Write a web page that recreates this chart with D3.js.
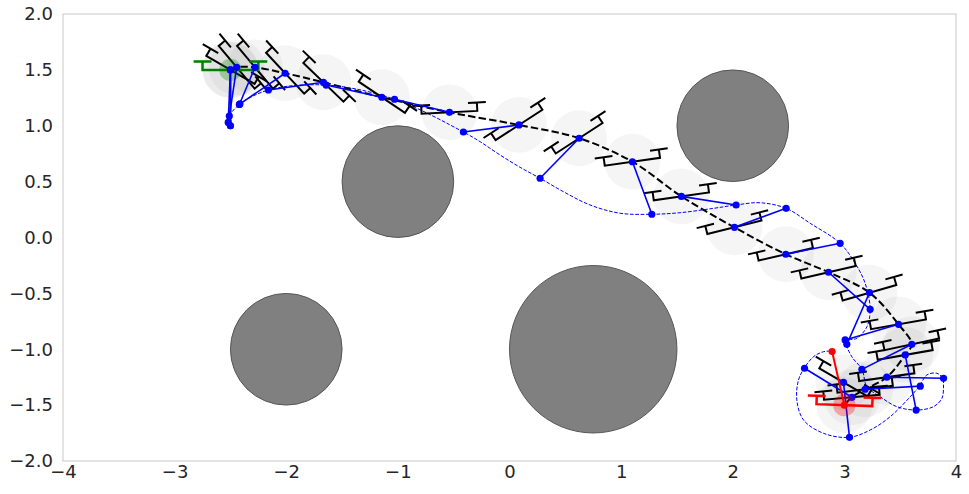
<!DOCTYPE html>
<html>
<head>
<meta charset="utf-8">
<script src="https://cdn.jsdelivr.net/npm/d3@7"></script>
<style>
  html, body { margin: 0; padding: 0; background: #ffffff; }
  svg { display: block; }
</style>
</head>
<body>
<svg id="chart" width="969" height="494"></svg>
<script>
// ---------------- data ----------------
const xTicks = [-4, -3, -2, -1, 0, 1, 2, 3, 4];
const yTicks = [-2, -1.5, -1, -0.5, 0, 0.5, 1, 1.5, 2];

// obstacles
const obsX = [-1, 2, -2, 0.75];
const obsY = [0.5, 1, -1, -1];
const obsR = [0.5, 0.5, 0.5, 0.75];

// drone frames (centre, tilt in degrees CCW) and suspended load positions
const droneX = [-2.50, -2.50, -2.444, -2.28, -2.01, -1.667, -1.144, -0.538, 0.085, 0.624, 1.101, 1.54, 2.015, 2.475, 2.858, 3.225, 3.485, 3.604, 3.545, 3.38, 3.186, 2.992, 3.067, 3.0];
const droneY = [1.50, 1.50, 1.523, 1.523, 1.47, 1.389, 1.255, 1.12, 1.007, 0.888, 0.678, 0.368, 0.091, -0.150, -0.311, -0.494, -0.777, -0.956, -1.051, -1.25, -1.358, -1.296, -1.43, -1.5];
const droneTilt = [0, -30, -50, -50, -47, -44, -34, 3, 33, 33, 8, 8, 14, 13, 13, 16, 10, 12, 10, 8, 7, -30, 5, -2];
const loadX = [-2.50, -2.52, -2.51, -2.42, -2.415, -2.16, -1.643, -1.03, -0.413, 0.274, 1.275, 2.03, 2.478, 2.962, 3.231, 3.022, 3.007, 3.157, 3.643, 3.888, 3.68, 3.046, 2.643, 2.89];
const loadY = [1.00, 1.03, 1.087, 1.19, 1.195, 1.32, 1.364, 1.237, 0.944, 0.530, 0.208, 0.291, 0.261, -0.052, -0.643, -0.956, -0.917, -1.18, -1.544, -1.26, -1.33, -1.788, -1.17, -1.02];

// reference (drone) path, black dashed
const refX = [-2.50, -2.444, -2.28, -2.01, -1.667, -1.144, -0.538, 0.085, 0.624, 1.101, 1.54, 2.015, 2.475, 2.858, 3.225, 3.485, 3.604, 3.545, 3.38, 3.186, 3.067, 3.0];
const refY = [1.50, 1.523, 1.523, 1.47, 1.389, 1.255, 1.12, 1.007, 0.888, 0.678, 0.368, 0.091, -0.150, -0.311, -0.494, -0.777, -0.956, -1.051, -1.25, -1.358, -1.43, -1.5];

// load trajectory, blue dashed
const lpX = [-2.50, -2.52, -2.51, -2.42, -2.16, -1.643, -1.03, -0.413, -0.263, -0.084, 0.095, 0.274, 0.483, 0.722, 0.991, 1.275, 1.529, 1.827, 2.030, 2.245, 2.478, 2.694, 2.962, 3.097, 3.186, 3.231, 3.202, 3.112, 3.016, 3.067, 3.157, 3.202, 3.321, 3.470, 3.643, 3.798, 3.874, 3.888, 3.882, 3.829, 3.739, 3.673, 3.590, 3.410, 3.231, 3.043, 2.813, 2.634, 2.574, 2.589, 2.640, 2.723, 2.813, 2.888];
const lpY = [1.00, 1.03, 1.087, 1.19, 1.32, 1.364, 1.237, 0.944, 0.857, 0.738, 0.628, 0.530, 0.410, 0.291, 0.217, 0.208, 0.222, 0.261, 0.291, 0.311, 0.261, 0.127, -0.052, -0.231, -0.410, -0.642, -0.798, -0.902, -0.926, -1.067, -1.179, -1.335, -1.425, -1.514, -1.544, -1.514, -1.439, -1.320, -1.260, -1.215, -1.230, -1.329, -1.425, -1.604, -1.723, -1.788, -1.752, -1.633, -1.454, -1.275, -1.170, -1.067, -1.022, -1.016];

// start / goal states
const startState = [-2.5, 1.5, 0];
const startLoad = [-2.5, 1.0];
const goalState = [3.0, -1.5, -2];
const goalLoad = [2.89, -1.02];

// ---------------- layout ----------------
const W = 969, H = 494;
const m = { left: 63, right: 13, top: 14, bottom: 33 };
const svg = d3.select("#chart");
const x = d3.scaleLinear().domain([-4, 4]).range([m.left, W - m.right]);
const y = d3.scaleLinear().domain([-2, 2]).range([H - m.bottom, m.top]);
const unit = (x(1) - x(0));

const FONT = "'DejaVu Sans', sans-serif";
const TXT = "#262626";

// drone geometry (data units)
const ARM = 0.25, STEM = 0.075, PROP = 0.08;
function dronePath(cx, cy, tiltDeg) {
  const t = tiltDeg * Math.PI / 180;
  const ux = Math.cos(t), uy = Math.sin(t);
  const nx = -Math.sin(t), ny = Math.cos(t);
  const Lx = cx - ARM * ux, Ly = cy - ARM * uy;
  const Rx = cx + ARM * ux, Ry = cy + ARM * uy;
  const LTx = Lx + STEM * nx, LTy = Ly + STEM * ny;
  const RTx = Rx + STEM * nx, RTy = Ry + STEM * ny;
  const p = d3.path();
  p.moveTo(x(LTx - PROP * ux), y(LTy - PROP * uy));
  p.lineTo(x(LTx + PROP * ux), y(LTy + PROP * uy));
  p.moveTo(x(LTx), y(LTy));
  p.lineTo(x(Lx), y(Ly));
  p.lineTo(x(Rx), y(Ry));
  p.lineTo(x(RTx), y(RTy));
  p.moveTo(x(RTx - PROP * ux), y(RTy - PROP * uy));
  p.lineTo(x(RTx + PROP * ux), y(RTy + PROP * uy));
  return p.toString();
}

const frames = droneX.map((d, i) => ({ x: d, y: droneY[i], t: droneTilt[i], lx: loadX[i], ly: loadY[i] }));
const inner = frames.slice(0, frames.length - 1);

// gray trail circles
svg.append("g").selectAll("circle").data(frames).join("circle")
  .attr("cx", d => x(d.x)).attr("cy", d => y(d.y))
  .attr("r", 0.25 * unit)
  .attr("fill", "#808080").attr("fill-opacity", 0.08);

// obstacles
svg.append("g").selectAll("circle").data(obsX).join("circle")
  .attr("cx", (d) => x(d)).attr("cy", (d, i) => y(obsY[i]))
  .attr("r", (d, i) => obsR[i] * unit)
  .attr("fill", "#808080").attr("stroke", "#555555").attr("stroke-width", 1);

// reference path
const line = d3.line().x(d => x(d[0])).y(d => y(d[1])).curve(d3.curveCatmullRom.alpha(0.5));
svg.append("path")
  .attr("d", line(refX.map((d, i) => [d, refY[i]])))
  .attr("fill", "none").attr("stroke", "#000").attr("stroke-width", 2)
  .attr("stroke-dasharray", "7.4,3.2");

// load trajectory
svg.append("path")
  .attr("d", line(lpX.map((d, i) => [d, lpY[i]])))
  .attr("fill", "none").attr("stroke", "#0000ff").attr("stroke-width", 1)
  .attr("stroke-dasharray", "3.7,1.6");

// black drones (skip start and goal, drawn in colour)
svg.append("g").selectAll("path").data(frames.slice(1, frames.length - 1)).join("path")
  .attr("d", d => dronePath(d.x, d.y, d.t))
  .attr("fill", "none").attr("stroke", "#000").attr("stroke-width", 2)
  .attr("stroke-linejoin", "miter");

// start (green)
svg.append("line")
  .attr("x1", x(startState[0])).attr("y1", y(startState[1]))
  .attr("x2", x(startLoad[0])).attr("y2", y(startLoad[1]))
  .attr("stroke", "green").attr("stroke-width", 2);
svg.append("circle").attr("cx", x(startLoad[0])).attr("cy", y(startLoad[1])).attr("r", 3.5).attr("fill", "green");
svg.append("path").attr("d", dronePath(startState[0], startState[1], startState[2]))
  .attr("fill", "none").attr("stroke", "green").attr("stroke-width", 2.5);
svg.append("circle").attr("cx", x(startState[0])).attr("cy", y(startState[1]))
  .attr("r", 0.1 * unit).attr("fill", "green").attr("fill-opacity", 0.3);

// cable lines and points
svg.append("g").selectAll("line").data(inner).join("line")
  .attr("x1", d => x(d.x)).attr("y1", d => y(d.y))
  .attr("x2", d => x(d.lx)).attr("y2", d => y(d.ly))
  .attr("stroke", "#0000ff").attr("stroke-width", 1.6);
svg.append("g").selectAll("circle").data(inner).join("circle")
  .attr("cx", d => x(d.lx)).attr("cy", d => y(d.ly)).attr("r", 3.6).attr("fill", "#0000ff");
svg.append("g").selectAll("circle").data(inner).join("circle")
  .attr("cx", d => x(d.x)).attr("cy", d => y(d.y)).attr("r", 3.6).attr("fill", "#0000ff");

// goal (red)
svg.append("path").attr("d", dronePath(goalState[0], goalState[1], goalState[2]))
  .attr("fill", "none").attr("stroke", "red").attr("stroke-width", 2.5);
svg.append("line")
  .attr("x1", x(goalState[0])).attr("y1", y(goalState[1]))
  .attr("x2", x(goalLoad[0])).attr("y2", y(goalLoad[1]))
  .attr("stroke", "red").attr("stroke-width", 2);
svg.append("circle").attr("cx", x(goalLoad[0])).attr("cy", y(goalLoad[1])).attr("r", 3.6).attr("fill", "red");
svg.append("circle").attr("cx", x(goalState[0])).attr("cy", y(goalState[1])).attr("r", 3.6).attr("fill", "red");
svg.append("circle").attr("cx", x(goalState[0])).attr("cy", y(goalState[1]))
  .attr("r", 0.1 * unit).attr("fill", "red").attr("fill-opacity", 0.3);

// frame
svg.append("rect")
  .attr("x", m.left).attr("y", m.top)
  .attr("width", W - m.right - m.left).attr("height", H - m.bottom - m.top)
  .attr("fill", "none").attr("stroke", "#cccccc").attr("stroke-width", 1.1);

// axes
const fmtY = d3.format(".1f");
const fmtX = d3.format("d");
const gx = svg.append("g").attr("transform", `translate(0,${H - m.bottom})`)
  .call(d3.axisBottom(x).tickValues(xTicks).tickFormat(fmtX).tickSize(0).tickPadding(4));
const gy = svg.append("g").attr("transform", `translate(${m.left},0)`)
  .call(d3.axisLeft(y).tickValues(yTicks).tickFormat(fmtY).tickSize(0).tickPadding(10));
[gx, gy].forEach(g => {
  g.select(".domain").remove();
  g.selectAll("text").attr("font-family", FONT).attr("font-size", 18).attr("fill", TXT);
});
</script>
</body>
</html>
